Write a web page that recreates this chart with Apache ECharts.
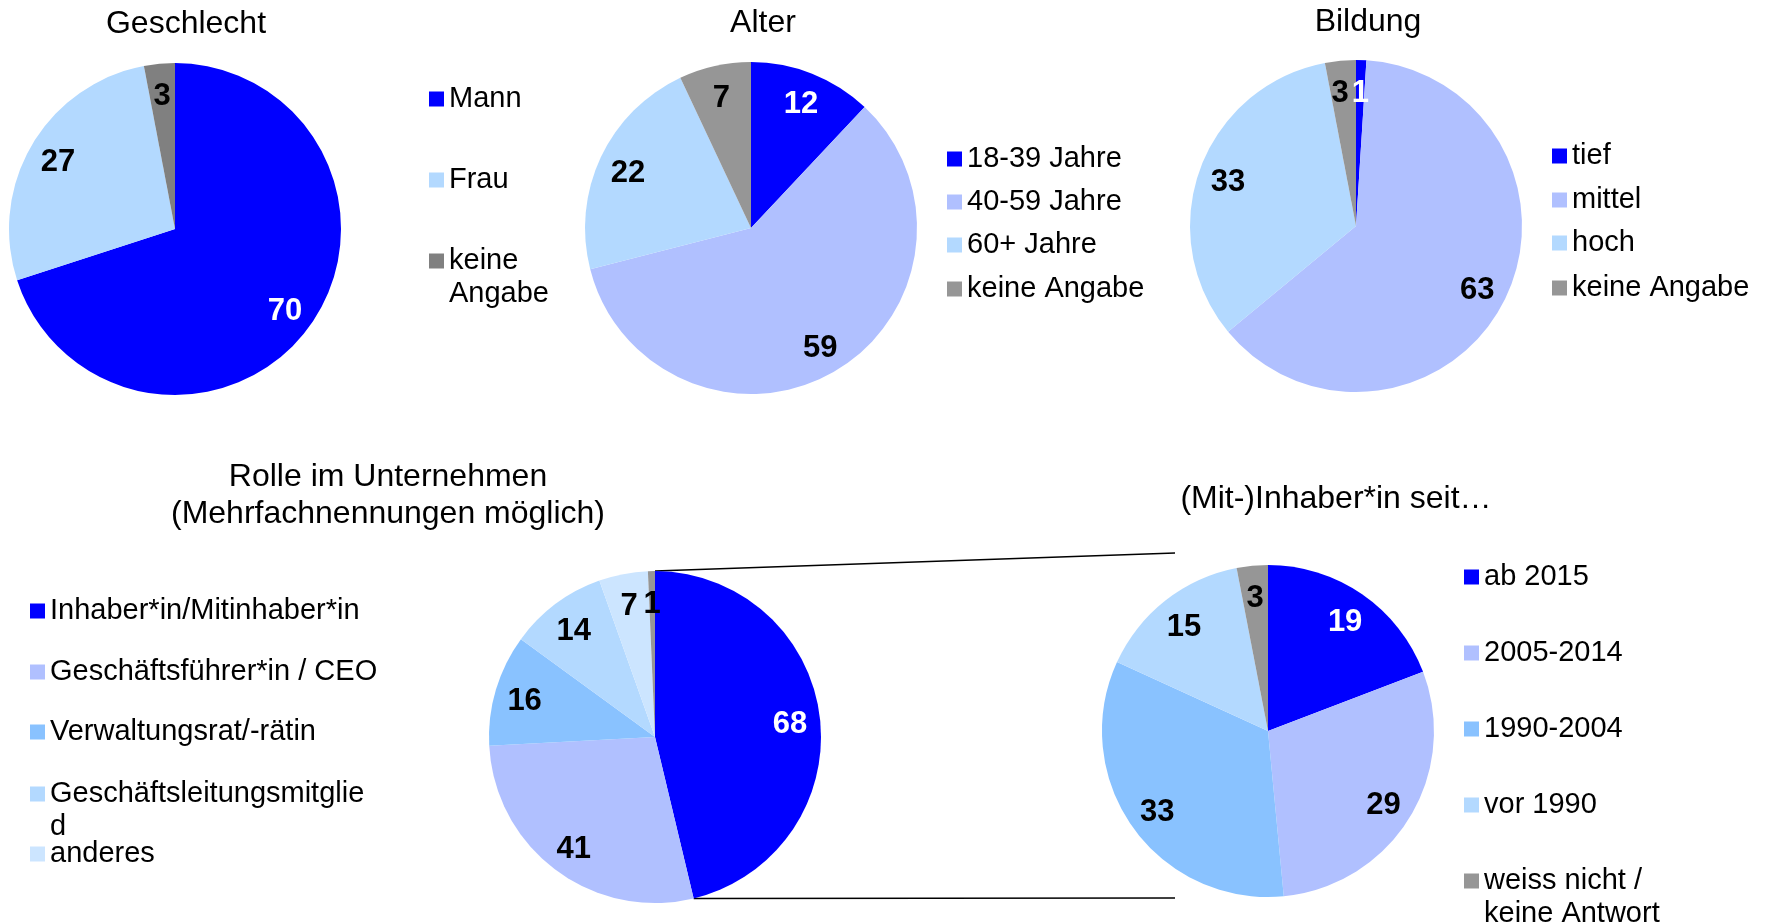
<!DOCTYPE html>
<html>
<head>
<meta charset="utf-8">
<title>Stichprobe</title>
<script src="https://cdn.jsdelivr.net/npm/echarts@6/dist/echarts.min.js"></script>
<style>
  html, body { margin: 0; padding: 0; background: #ffffff; }
  #chart { width: 1771px; height: 923px; }
</style>
</head>
<body>
<div id="chart"></div>
<script>
// Daten (Anteile in %)
const geschlechtNames = ['Mann', 'Frau', 'keine Angabe'];
const geschlechtValues = [70, 27, 3];

const alterNames = ['18-39 Jahre', '40-59 Jahre', '60+ Jahre', 'keine Angabe'];
const alterValues = [12, 59, 22, 7];

const bildungNames = ['tief', 'mittel', 'hoch', 'keine Angabe'];
const bildungValues = [1, 63, 33, 3];

// Mehrfachnennungen möglich
const rolleNames = ['Inhaber*in/Mitinhaber*in', 'Geschäftsführer*in / CEO', 'Verwaltungsrat/-rätin', 'Geschäftsleitungsmitglied', 'anderes', 'keine Angabe'];
const rolleValues = [68, 41, 16, 14, 7, 1];

const seitNames = ['ab 2015', '2005-2014', '1990-2004', 'vor 1990', 'weiss nicht / keine Antwort'];
const seitValues = [19, 29, 33, 15, 3];

// Farben
const BLUE = '#0000ff';
const PERI = '#b0c0ff';
const LIGHT = '#b3d9ff';
const MID = '#89c2ff';
const PALE = '#cce5ff';
const GREY_DARK = '#808080';
const GREY = '#969696';

const geschlechtColors = [BLUE, LIGHT, GREY_DARK];
const alterColors = [BLUE, PERI, LIGHT, GREY];
const bildungColors = [BLUE, PERI, LIGHT, GREY];
const rolleColors = [BLUE, PERI, MID, LIGHT, PALE, GREY];
const seitColors = [BLUE, PERI, MID, LIGHT, GREY];

const FONT = 'Arial, "Liberation Sans", sans-serif';
const R = 166;
const LINE_H = 33;

// Layout der fünf Kreise
const pies = [
  {
    names: geschlechtNames, values: geschlechtValues, colors: geschlechtColors,
    center: [175, 229], title: 'Geschlecht', titlePos: [186, 24],
    legendNames: geschlechtNames, legendLeft: 429, legendY: [99, 180, 261],
    wrap: { 'keine Angabe': 'keine\nAngabe' },
  },
  {
    names: alterNames, values: alterValues, colors: alterColors,
    center: [751, 228], title: 'Alter', titlePos: [763, 23],
    legendNames: alterNames, legendLeft: 947, legendY: [159, 202, 245, 289],
    wrap: {},
  },
  {
    names: bildungNames, values: bildungValues, colors: bildungColors,
    center: [1356, 226], title: 'Bildung', titlePos: [1368, 22],
    legendNames: bildungNames, legendLeft: 1552, legendY: [156, 200, 243, 288],
    wrap: {},
    // "3" etwas nach links, damit es nicht an der "1" klebt
    labelDx: [0, 0, 0, -3],
  },
  {
    names: rolleNames, values: rolleValues, colors: rolleColors,
    center: [655, 737], title: 'Rolle im Unternehmen\n(Mehrfachnennungen möglich)', titlePos: [388, 496],
    legendNames: rolleNames.slice(0, 5), legendLeft: 30, legendY: [611, 672, 732, 794, 854],
    wrap: { 'Geschäftsleitungsmitglied': 'Geschäftsleitungsmitglie\nd' },
  },
  {
    names: seitNames, values: seitValues, colors: seitColors,
    center: [1268, 731], title: '(Mit-)Inhaber*in seit…', titlePos: [1336, 499],
    legendNames: seitNames, legendLeft: 1464, legendY: [577, 653, 729, 805, 881],
    wrap: { 'weiss nicht / keine Antwort': 'weiss nicht /\nkeine Antwort' },
  },
];

const series = [];
const titles = [];
const legends = [];

pies.forEach((p) => {
  const data = p.names.map((name, i) => ({
    name: name,
    value: p.values[i],
    itemStyle: { color: p.colors[i] },
    label: { color: p.colors[i] === BLUE ? '#ffffff' : '#000000' },
  }));

  // Kreis
  series.push({
    type: 'pie',
    center: p.center,
    radius: [0, R],
    startAngle: 90,
    clockwise: true,
    silent: true,
    label: { show: false },
    labelLine: { show: false },
    itemStyle: { borderWidth: 0 },
    data: data,
  });

  // transparenter Ring nur für die Werte (liegen bei ca. 0.8 r)
  series.push({
    type: 'pie',
    center: p.center,
    radius: [100, R],
    startAngle: 90,
    clockwise: true,
    silent: true,
    itemStyle: { color: 'rgba(0,0,0,0)', borderWidth: 0 },
    label: {
      show: true,
      position: 'inside',
      formatter: '{c}',
      fontSize: 31,
      fontWeight: 'bold',
      fontFamily: FONT,
    },
    labelLine: { show: false },
    labelLayout: (params) => ({
      dx: p.labelDx ? p.labelDx[params.dataIndex] : 0,
      dy: 3,
      hideOverlap: false,
    }),
    data: data.map((d) => ({ name: d.name, value: d.value, label: d.label })),
  });

  titles.push({
    text: p.title,
    left: p.titlePos[0],
    top: p.titlePos[1],
    textAlign: 'center',
    textVerticalAlign: 'middle',
    padding: 0,
    textStyle: {
      fontFamily: FONT,
      fontSize: 32,
      fontWeight: 'normal',
      color: '#000000',
      lineHeight: 37,
    },
  });

  // ein Eintrag pro Legende, damit die Abstände wie im Original sind;
  // bei mehrzeiligen Einträgen steht das Kästchen auf Höhe der ersten Zeile
  p.legendNames.forEach((name, i) => {
    const wrapped = p.wrap[name] || name;
    const lines = wrapped.split('\n').length;
    const text = '\n'.repeat(lines - 1) + wrapped;
    legends.push({
      orient: 'vertical',
      left: p.legendLeft,
      top: p.legendY[i] - (LINE_H / 2) * (2 * lines - 1),
      padding: 0,
      icon: 'rect',
      itemWidth: 15,
      itemHeight: 15,
      selectedMode: false,
      formatter: () => text,
      textStyle: {
        fontFamily: FONT,
        fontSize: 29,
        color: '#000000',
        lineHeight: LINE_H,
      },
      data: [{
        name: name,
        itemStyle: { color: p.colors[p.names.indexOf(name)] },
      }],
    });
  });
});

// Verbindungslinien vom Inhaber-Segment zum zweiten Kreis
const rolle = pies[3];
const rolleSum = rolleValues.reduce((a, b) => a + b, 0);
const splitAngle = (rolleValues[0] / rolleSum) * 2 * Math.PI;
const lineTop = [rolle.center[0], rolle.center[1] - R];
const lineBottom = [
  rolle.center[0] + R * Math.sin(splitAngle),
  rolle.center[1] - R * Math.cos(splitAngle),
];

const option = {
  backgroundColor: '#ffffff',
  animation: false,
  title: titles,
  legend: legends,
  series: series,
  graphic: [
    {
      type: 'line',
      shape: { x1: lineTop[0], y1: lineTop[1], x2: 1175, y2: 553 },
      style: { stroke: '#000000', lineWidth: 1.5 },
    },
    {
      type: 'line',
      shape: { x1: lineBottom[0], y1: lineBottom[1], x2: 1175, y2: 898 },
      style: { stroke: '#000000', lineWidth: 1.5 },
    },
  ],
};

const mychart = echarts.init(document.getElementById('chart'));
mychart.setOption(option);

window.addEventListener('resize', () => {
  mychart.resize();
});
</script>
</body>
</html>
